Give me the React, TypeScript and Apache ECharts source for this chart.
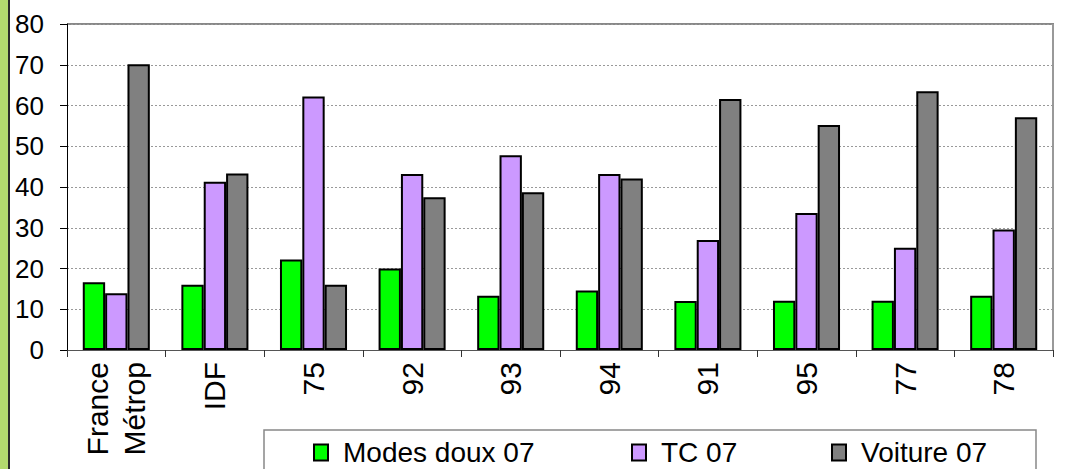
import React, { useEffect, useRef } from "react";
import * as echarts from "echarts";

const categories = ["France\nMétrop", "IDF", "75", "92", "93", "94", "91", "95", "77", "78"];
const modesDoux = [16.6, 16.0, 22.2, 20.0, 13.3, 14.6, 12.0, 12.1, 12.1, 13.3];
const tc = [13.9, 41.3, 62.2, 43.2, 47.8, 43.2, 27.0, 33.6, 25.1, 29.6];
const voiture = [70.1, 43.3, 16.0, 37.5, 38.7, 42.1, 61.6, 55.2, 63.5, 57.1];
const seriesNames = ["Modes doux 07", "TC 07", "Voiture 07"];
const yTicks = { min: 0, max: 80, interval: 10 };

const W = 1065;
const H = 469;
const G = { left: 67, right: 12, top: 24, bottom: 119 };
const FONT = "'Liberation Sans', Arial, sans-serif";

export default function App() {
  const ref = useRef<HTMLDivElement>(null);
  useEffect(() => {
    if (!ref.current) return;
    const chart = echarts.init(ref.current, null, { renderer: "svg", width: W, height: H });
    const colors = ["#00FF00", "#CC99FF", "#808080"];
    const datas = [modesDoux, tc, voiture];
    const legendLefts = [313, 631, 831];
    const plotRight = W - G.right;
    const plotBottom = H - G.bottom;
    chart.setOption({
      animation: false,
      backgroundColor: "#ffffff",
      grid: { ...G, containLabel: false, outerBoundsMode: "none" } as any,
      xAxis: {
        type: "category",
        data: categories,
        boundaryGap: true,
        axisLine: { lineStyle: { color: "#555", width: 1 } },
        axisTick: { show: true, length: 7, interval: 0, lineStyle: { color: "#333" } },
        axisLabel: {
          interval: 0,
          rotate: 90,
          margin: 12,
          fontSize: 30,
          lineHeight: 37,
          color: "#000",
          fontFamily: FONT,
        },
      },
      yAxis: {
        type: "value",
        min: yTicks.min,
        max: yTicks.max,
        interval: yTicks.interval,
        axisLine: { show: true, lineStyle: { color: "#000", width: 1 } },
        axisTick: { show: true, length: 7, lineStyle: { color: "#000" } },
        axisLabel: { fontSize: 26, color: "#000", margin: 23, fontFamily: FONT },
        splitLine: { show: true, lineStyle: { color: "#999", type: [2, 2], width: 1 } },
      },
      legend: seriesNames.map((n, i) => ({
        data: [n],
        left: legendLefts[i],
        top: 437,
        padding: 0,
        itemWidth: 14,
        itemHeight: 16,
        icon: "rect",
        textStyle: {
          fontSize: 28,
          lineHeight: 31,
          color: "#000",
          fontFamily: FONT,
          padding: [0, 0, 0, 10],
        },
      })),
      series: seriesNames.map((n, i) => ({
        name: n,
        type: "bar",
        data: datas[i],
        barGap: "0%",
        barCategoryGap: "32%",
        itemStyle: { color: colors[i], borderColor: "#000", borderWidth: 2 },
      })),
      graphic: [
        { type: "rect", shape: { x: 0, y: 0, width: 8, height: H }, style: { fill: "#B3DA6E" }, silent: true },
        { type: "line", shape: { x1: 9, y1: 0, x2: 9, y2: H }, style: { stroke: "#2a2a2a", lineWidth: 2 }, silent: true },
        { type: "line", shape: { x1: G.left, y1: G.top, x2: plotRight + 1, y2: G.top }, style: { stroke: "#888", lineWidth: 2 }, silent: true },
        { type: "line", shape: { x1: plotRight, y1: G.top, x2: plotRight, y2: plotBottom }, style: { stroke: "#999", lineWidth: 2 }, silent: true },
        { type: "rect", shape: { x: 264, y: 430, width: 772, height: 60 }, style: { fill: "none", stroke: "#888", lineWidth: 1.5 }, silent: true },
      ],
    });
    return () => chart.dispose();
  }, []);
  return (
    <div
      ref={ref}
      style={{ position: "fixed", left: 0, top: 0, width: W, height: H, background: "#fff" }}
    />
  );
}
